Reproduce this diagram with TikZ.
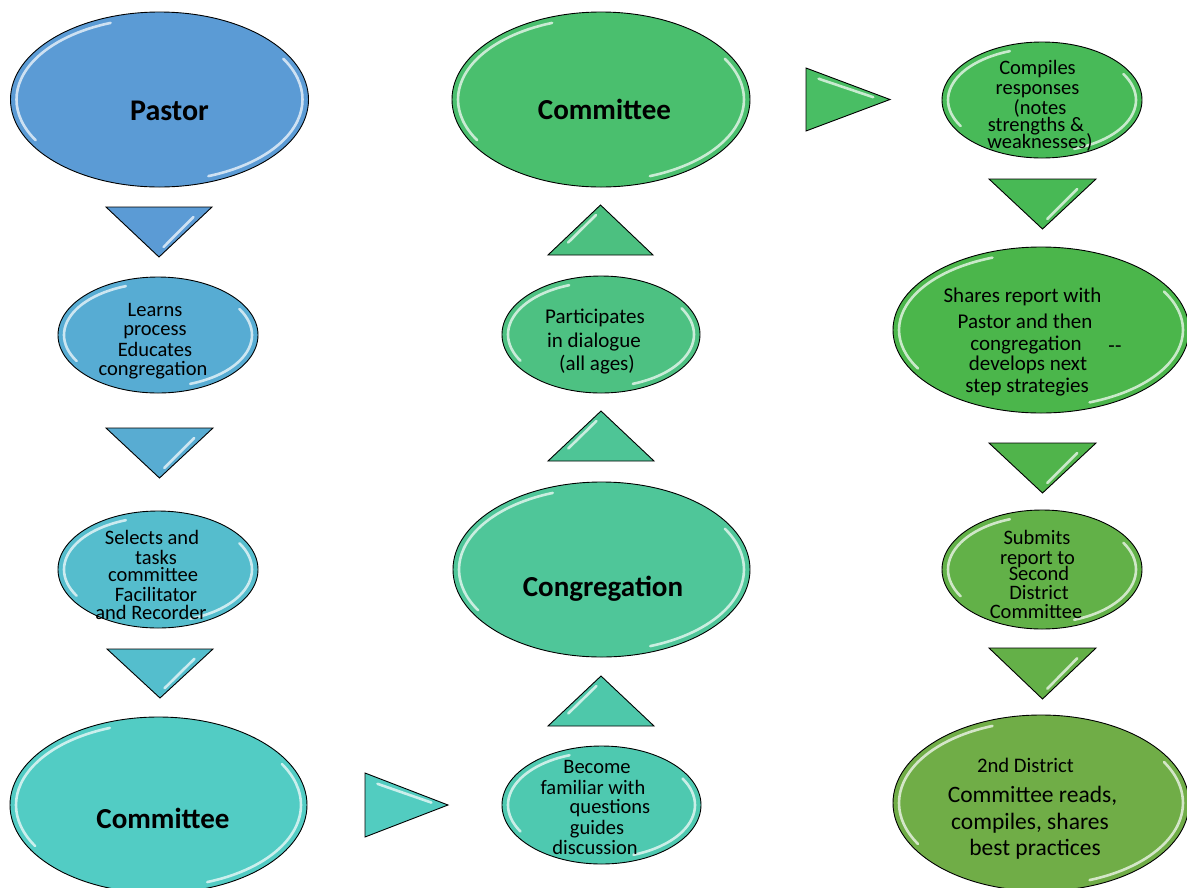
\documentclass[tikz,border=0pt]{standalone}
\usepackage{fontspec}
\setmainfont{Carlito}
\usetikzlibrary{shapes.geometric}
\definecolor{cPastor}{RGB}{91,155,213}
\definecolor{cLearns}{RGB}{87,172,211}
\definecolor{cSelects}{RGB}{85,189,205}
\definecolor{cComB}{RGB}{82,204,196}
\definecolor{cBecome}{RGB}{78,201,176}
\definecolor{cCong}{RGB}{79,198,153}
\definecolor{cPart}{RGB}{77,193,130}
\definecolor{cComT}{RGB}{74,191,110}
\definecolor{cComp}{RGB}{72,186,88}
\definecolor{cShares}{RGB}{75,182,75}
\definecolor{cSubmit}{RGB}{98,177,72}
\definecolor{cDist}{RGB}{112,173,71}
\definecolor{tD2}{RGB}{88,172,210}
\definecolor{tD3}{RGB}{84,190,205}
\definecolor{tR1}{RGB}{82,204,192}
\definecolor{tU1}{RGB}{78,200,170}
\definecolor{tU2}{RGB}{78,197,150}
\definecolor{tU3}{RGB}{76,192,128}
\definecolor{tR2}{RGB}{73,190,100}
\definecolor{tD4}{RGB}{72,185,85}
\definecolor{tD5}{RGB}{80,180,75}
\definecolor{tD6}{RGB}{100,176,72}
\tikzset{
  blob/.style={ellipse, draw=black, line width=0.9pt, inner sep=0pt},
  gl/.style={white, line width=2.6pt, opacity=0.7, line cap=round},
  tri/.style={draw=black, line width=0.9pt, line join=miter},
  ln/.style={inner sep=0pt, text depth=0pt, anchor=center},
  big/.style={ln, text height=18.6pt, font=\fontsize{29}{29}\selectfont\bfseries},
  sm/.style={ln, text height=13.2pt, font=\fontsize{20.5}{20}\selectfont},
  md/.style={ln, text height=13.5pt, font=\fontsize{21}{21}\selectfont},
  lg/.style={ln, text height=15.1pt, font=\fontsize{23.5}{24}\selectfont},
}
% name, cx, cy, rx, ry, colour
\newcommand\myblob[6]{%
  \node[blob, fill=#6, minimum width={2*#4pt}, minimum height={2*#5pt}] (#1) at (#2,#3) {};
  \draw[gl] (#2,#3) ++(150:{#4-6} and {#5-6}) arc[start angle=150, end angle=250, x radius={#4-6}, y radius={#5-6}];
  \draw[gl] (#2,#3) ++(-30:{#4-6} and {#5-6}) arc[start angle=-30, end angle=70, x radius={#4-6}, y radius={#5-6}];
}
% x1, x2, ytop, yapex, colour
\newcommand\tridown[5]{%
  \path[tri, fill=#5] (#1,#3) -- (#2,#3) -- ({(#1+#2)/2},#4) -- cycle;
  \draw[gl] ({#2-0.2*(#2-#1)/2-8},{#3+0.2*(#4-#3)}) -- ({#2-0.8*(#2-#1)/2-6},{#3+0.8*(#4-#3)});
}
% x1, x2, yapex, ybase, colour
\newcommand\triup[5]{%
  \path[tri, fill=#5] (#1,#4) -- (#2,#4) -- ({(#1+#2)/2},#3) -- cycle;
  \draw[gl] ({(#1+#2)/2-0.2*(#2-#1)/2+6},{#3+0.2*(#4-#3)}) -- ({(#1+#2)/2-0.75*(#2-#1)/2+7},{#3+0.75*(#4-#3)});
}
% xleft, xapex, ytop, ybottom, colour
\newcommand\triright[5]{%
  \path[tri, fill=#5] (#1,#3) -- (#1,#4) -- (#2,{(#3+#4)/2}) -- cycle;
  \draw[gl] ({#1+0.15*(#2-#1)},{#3+0.15*((#4-#3)/2)+6}) -- ({#1+0.8*(#2-#1)},{#3+0.8*((#4-#3)/2)+4});
}
\begin{document}
\begin{tikzpicture}[x=1pt, y=-1pt]
\useasboundingbox (0,0) rectangle (1187,887);
\clip (0,0) rectangle (1187,887);

% ---------- left column ----------
\myblob{pastor}{159.5}{99.5}{149}{87.5}{cPastor}
\node[big, text height=19.2pt, font=\fontsize{30}{30}\selectfont\bfseries] (tpastor) at (169.5,110.5) {Pastor};
\tridown{106}{212}{207}{257}{cPastor}

\myblob{learns}{158}{335}{100}{58}{cLearns}
\node[sm] (tl1) at (155,310) {Learns};
\node[sm] (tl2) at (155,329) {process};
\node[sm] (tl3) at (155,350) {Educates};
\node[sm] (tl4) at (153,369) {congregation};
\tridown{106}{213}{428}{478}{tD2}

\myblob{selects}{158}{569.5}{100}{58.5}{cSelects}
\node[sm] (ts1) at (152,538) {Selects and};
\node[sm] (ts2) at (156,558) {tasks};
\node[sm] (ts3) at (153,575) {committee};
\node[sm] (ts4) at (156,595) {Facilitator};
\node[sm] (ts5) at (151,613) {and Recorder};
\tridown{107}{213}{649}{698}{tD3}

\myblob{combot}{158.5}{805}{148.5}{88}{cComB}
\node[big] (tcombot) at (163,819) {Committee};
\triright{365}{448}{773}{837}{tR1}

% ---------- middle column ----------
\myblob{become}{601.5}{805}{99.5}{59}{cBecome}
\node[sm] (tb1) at (597,767) {Become};
\node[sm] (tb2) at (593,788) {familiar with};
\node[sm] (tb3) at (610,807) {questions};
\node[sm] (tb4) at (597,828) {guides};
\node[sm] (tb5) at (595,848) {discussion};
\triup{548}{654}{676}{726}{tU1}

\myblob{cong}{601.5}{569.5}{148.5}{87.5}{cCong}
\node[big] (tcong) at (603,587) {Congregation};
\triup{548}{654}{411}{461}{tU2}

\myblob{part}{601}{334.5}{99}{58.5}{cPart}
\node[md] (tp1) at (595,317) {Participates};
\node[md] (tp2) at (594,341) {in dialogue};
\node[md] (tp3) at (597,364) {(all ages)};
\triup{548}{653}{205}{255}{tU3}

\myblob{comtop}{601}{99.5}{149}{87.5}{cComT}
\node[big] (tcomtop) at (604.5,110) {Committee};
\triright{806}{890}{68}{131}{tR2}

% ---------- right column ----------
\myblob{compiles}{1042}{100}{100}{58}{cComp}
\node[sm] (tc1) at (1037.5,67.5) {Compiles};
\node[sm] (tc2) at (1037.5,87.5) {responses};
\node[sm] (tc3) at (1040,108) {(notes};
\node[sm] (tc4) at (1036,125) {strengths \&};
\node[sm] (tc5) at (1040,142) {weaknesses)};
\tridown{989}{1096}{179}{229}{tD4}

\myblob{shares}{1041}{330}{148}{83}{cShares}
\node[md] (th1) at (1022.5,296) {Shares report with};
\node[md] (th2) at (1025,322) {Pastor and then};
\node[md] (th3) at (1026,344) {congregation};
\node[md] (th4) at (1028,364) {develops next};
\node[md] (th5) at (1027,386) {step strategies};
\node[md] (th6) at (1115,346) {-\kern0.5pt-};
\tridown{989}{1096}{443}{493}{tD5}

\myblob{submits}{1042}{569.5}{100}{59.5}{cSubmit}
\node[sm] (tu1) at (1037,537.5) {Submits};
\node[sm] (tu2) at (1037.5,558) {report to};
\node[sm] (tu3) at (1039,574) {Second};
\node[sm] (tu4) at (1039,593) {District};
\node[sm] (tu5) at (1036,612) {Committee};
\tridown{989}{1096}{648}{699}{tD6}

\myblob{district}{1041}{803}{148}{88}{cDist}
\node[ln, text height=13.3pt, font=\fontsize{20.7}{21}\selectfont] (td1) at (1025.5,766) {2nd District};
\node[lg] (td2) at (1032.5,795) {Committee reads,};
\node[lg] (td3) at (1030,822) {compiles, shares};
\node[lg] (td4) at (1035,848) {best practices};
\end{tikzpicture}
\end{document}
